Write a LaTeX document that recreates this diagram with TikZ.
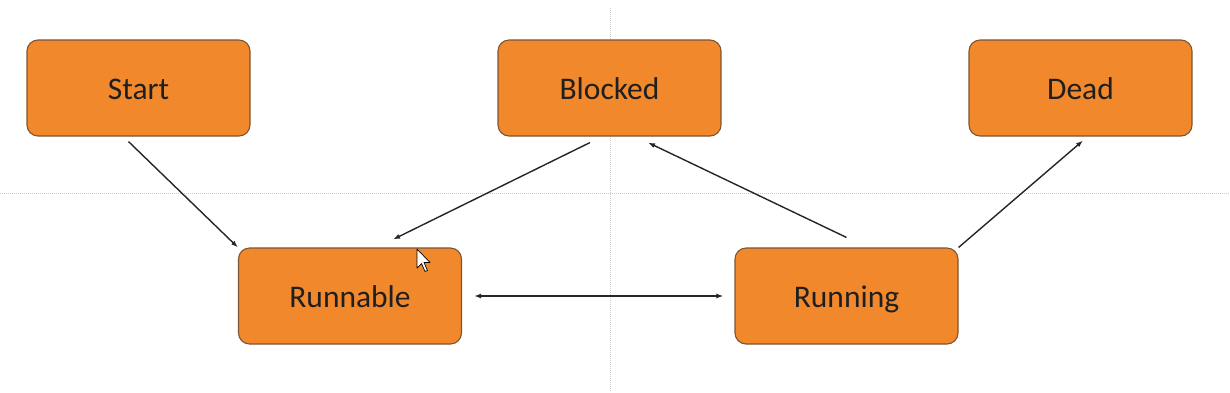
\documentclass[tikz,border=0pt]{standalone}
\usepackage{fontspec}
\setmainfont{Carlito}
\usetikzlibrary{arrows.meta,positioning}
\definecolor{stateorange}{RGB}{242,136,44}
\definecolor{stateedge}{RGB}{125,85,50}
\definecolor{guidegray}{RGB}{205,205,205}

\begin{document}
\begin{tikzpicture}[x=1pt,y=-1pt,>={Latex[length=7pt,width=5pt]},
  state/.style={draw=stateedge,line width=1.1pt,fill=stateorange,rounded corners=11pt,
    minimum width=223pt,minimum height=96pt,inner sep=0pt,text height=24pt,text depth=1pt,
    font=\fontsize{31.5}{36}\selectfont,text=black!88},
  link/.style={->,line width=1.4pt,draw=black!85}]
\useasboundingbox (0,0) rectangle (1230,392);
\fill[white] (0,0) rectangle (1230,392);
% slide guides
\draw[guidegray,densely dotted,line width=1pt] (610,8) -- (610,392);
\draw[guidegray,densely dotted,line width=1pt] (0,193) -- (1230,193);
% states
\node[state] (start) at (138.5,88) {Start};
\node[state] (blocked) at (609.5,88) {Blocked};
\node[state] (dead) at (1080.5,88) {Dead};
\node[state] (runnable) at (350,296) {Runnable};
\node[state] (running) at (846.5,296) {Running};
% transitions
\draw[link] ([xshift=-10pt,yshift=-5pt]start.south) -- (runnable.north west);
\draw[link] ([xshift=-19.5pt,yshift=-6pt]blocked.south) -- ([xshift=43pt,yshift=8pt]runnable.north);
\draw[link] ([yshift=10pt]running.north) -- ([xshift=38.5pt,yshift=-6pt]blocked.south);
\draw[link] (running.north east) -- ([xshift=2.5pt,yshift=-4pt]dead.south);
\draw[link,<->,shorten <=12pt,shorten >=11pt] (runnable.east) -- (running.west);
% mouse pointer
\draw[fill=white,line width=0.7pt,line join=round] (417,249) -- (417,268) -- (421.5,263.5)
  -- (425,271.5) -- (427.5,270.5) -- (424,262.5) -- (430,262.5) -- cycle;
\end{tikzpicture}
\end{document}
